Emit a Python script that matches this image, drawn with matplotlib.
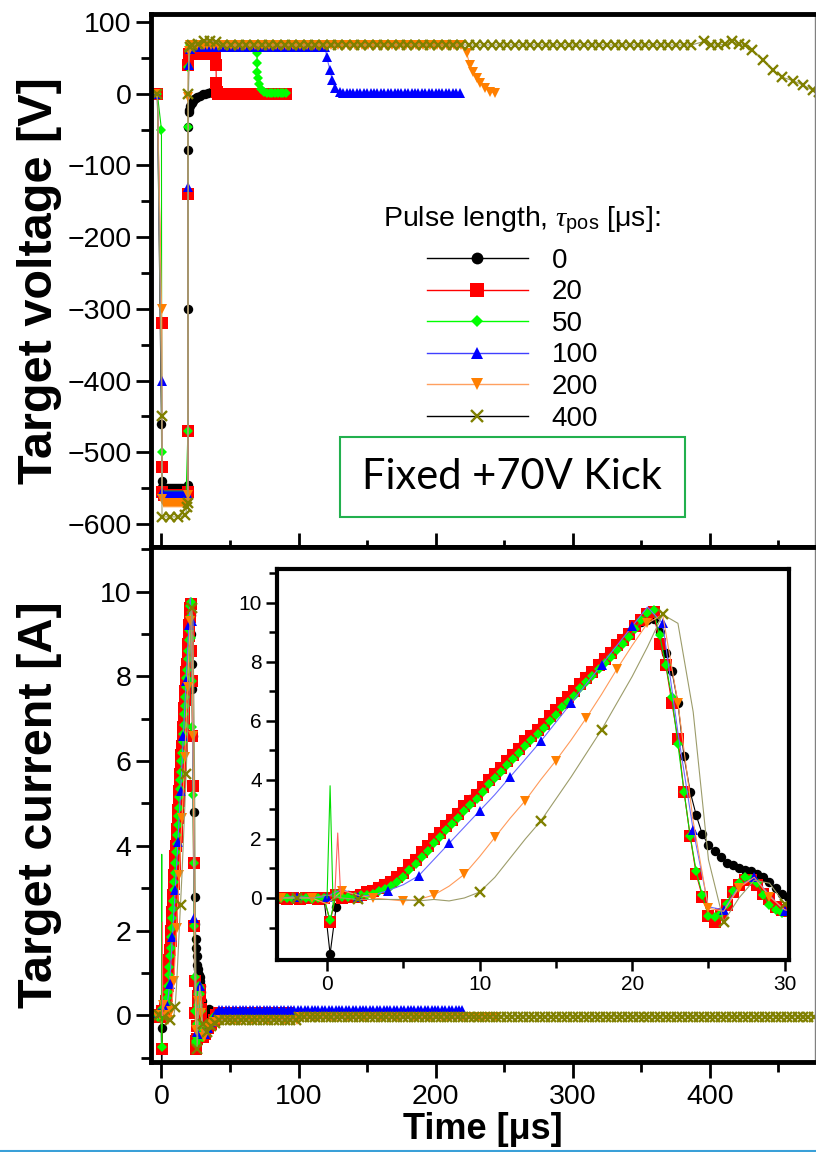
import numpy as np
import matplotlib.pyplot as plt
from matplotlib.lines import Line2D
from matplotlib.patches import Rectangle

plt.rcParams['font.family'] = ['Liberation Sans', 'DejaVu Sans']
plt.rcParams['mathtext.fontset'] = 'custom'
plt.rcParams['mathtext.rm'] = 'Liberation Sans'
plt.rcParams['mathtext.it'] = 'Liberation Serif:italic'

pulse_labels = ['0', '20', '50', '100', '200', '400']

# ---- target voltage [V] vs time [us]; flat parts given as (t0, t1, step, level)
volt_0_fall = ([-3.0, 0.0, 0.15, 0.3, 0.5, 0.8], [0, -460, -520, -540, -548, -552])
volt_0_rise = ([19.3, 19.4, 19.5, 19.6, 19.8, 20.2, 21, 22, 23, 24, 25, 26, 28, 30, 32, 34, 36, 38],
               [-545, -300, -78, -47, -26, -22, -17, -13, -10, -8, -6, -5, -3, -1, 0, 1, 2, 2])

volt_20_fall = ([-3.0, 0.1, 0.3, 0.6], [0, -320, -520, -555])
volt_20_rise = ([19.3, 19.4, 19.5, 19.6, 20.0], [-555, -470, -140, 40, 55])
volt_20_off = ([39.8, 40.0, 40.3], [40, 15, 2])

volt_50_fall = ([-3.0, 0.0, 0.2, 0.5], [0, -50, -500, -560])
volt_50_rise = ([19.3, 19.5, 19.7, 20.2], [-470, -47, 37, 60])
volt_50_off = ([69.7, 69.8, 70.0, 70.3, 70.8, 72.5, 74.5, 77], [57, 43, 31, 22, 13, 6, 2, 1])

volt_100_fall = ([-3.0, 0.1, 0.4], [0, -400, -555])
volt_100_rise = ([19.3, 19.5, 19.8, 20.5], [-560, -130, 40, 63])
volt_100_off = ([120.5, 123, 124.5, 126.5, 130], [51, 33, 19, 8, 3])

volt_200_fall = ([-3.0, 0.1, 0.4], [0, -300, -565])
volt_200_rise = ([19.3, 19.5, 20.0], [-560, -4, 60])
volt_200_off = ([222.6, 225, 227, 230, 232.5, 236, 240, 243], [57, 40, 31, 22, 15, 8, 3, 1])

volt_400_fall = ([-3.0, 0.2, 0.4, 6.0, 12.0, 17.5, 18.6], [0, -450, -590, -590, -590, -588, -576])
volt_400_rise = ([19.3, 19.6, 20.5, 22.0, 26.5, 31.0, 35.5, 40.0], [-570, 0, 65, 68, 70, 74, 74, 72])
volt_400_bump = ([396, 401, 406, 411, 416, 421, 426], [73, 68, 68, 69, 73, 69, 68])
volt_400_off = ([431, 439, 446, 453, 461, 468, 475, 480], [61, 47, 33, 23, 18, 12, 5, 2])

# ---- target current [A]; fast-sampled traces on t_fast, slower ones on t_slow
t_fast = np.arange(-3.0, 30.7, 0.4)
t_slow = np.arange(-3.0, 31.5, 1.0)

cur_0 = [0.0, 0.0, 0.0, -0.05, 0.0, 0.0, 0.0, 0.0, -1.9, -0.3,
         0.05, 0.1, 0.1, 0.15, 0.25, 0.3, 0.4, 0.5, 0.6, 0.75,
         0.9, 1.15, 1.35, 1.6, 1.8, 2.05, 2.25, 2.5, 2.7, 2.9,
         3.15, 3.35, 3.55, 3.8, 4.05, 4.25, 4.45, 4.7, 4.9, 5.1,
         5.35, 5.55, 5.75, 5.95, 6.2, 6.4, 6.65, 6.85, 7.05, 7.3,
         7.5, 7.7, 7.95, 8.15, 8.35, 8.6, 8.8, 9.0, 9.2, 9.35,
         9.4, 9.45, 9.0, 8.3, 7.7, 6.6, 4.8, 3.6, 2.8, 2.15,
         1.8, 1.6, 1.4, 1.2, 1.1, 1.0, 0.95, 0.9, 0.8, 0.7,
         0.55, 0.35, 0.15, 0.05, 0.0]
cur_20 = [0.0, -0.05, 0.0, -0.05, 0.0, 0.0, -0.05, 0.0, -0.8, 0.1,
          0.0, 0.05, 0.05, 0.1, 0.2, 0.25, 0.35, 0.45, 0.55, 0.7,
          0.85, 1.1, 1.3, 1.55, 1.75, 2.0, 2.2, 2.45, 2.65, 2.85,
          3.1, 3.3, 3.5, 3.75, 4.0, 4.2, 4.4, 4.65, 4.85, 5.05,
          5.3, 5.5, 5.7, 5.9, 6.15, 6.35, 6.6, 6.8, 7.0, 7.25,
          7.45, 7.65, 7.9, 8.1, 8.3, 8.55, 8.75, 8.95, 9.2, 9.4,
          9.6, 9.7, 8.6, 7.9, 6.6, 5.4, 3.6, 2.1, 0.8, 0.05,
          -0.6, -0.8, -0.55, -0.25, 0.2, 0.45, 0.6, 0.6, 0.45, 0.15,
          -0.05, -0.3, -0.4, -0.45, -0.5]
cur_50 = [0.0, 0.0, -0.05, 0.0, 0.0, -0.05, 0.0, 0.0, -0.75, 0.15,
          0.05, 0.05, 0.05, 0.1, 0.1, 0.15, 0.25, 0.3, 0.4, 0.55,
          0.7, 0.95, 1.15, 1.4, 1.6, 1.85, 2.05, 2.3, 2.5, 2.7,
          2.95, 3.15, 3.35, 3.6, 3.85, 4.05, 4.25, 4.5, 4.7, 4.9,
          5.15, 5.35, 5.55, 5.75, 6.0, 6.2, 6.45, 6.65, 6.85, 7.1,
          7.3, 7.5, 7.75, 7.95, 8.15, 8.4, 8.6, 8.85, 9.1, 9.4,
          9.65, 9.75, 8.9, 7.9, 6.8, 5.2, 3.6, 2.1, 0.9, 0.1,
          -0.6, -0.65, -0.5, -0.2, 0.25, 0.5, 0.7, 0.65, 0.5, 0.1,
          -0.25, -0.4, -0.5, -0.5, -0.5]
cur_100 = [0.0, 0.05, 0.0, 0.05, 0.3, 0.05, 0.1, 0.25, 0.45, 0.75,
           1.3, 1.85, 2.4, 2.95, 3.5, 4.1, 4.7, 5.3, 5.95, 6.6,
           7.25, 7.9, 8.55, 9.2, 9.85, 9.3, 5.6, 2.3, -0.3, -0.4,
           0.4, 0.7, 0.1, -0.45, -0.5]
cur_200 = [0.0, 0.0, 0.0, -0.2, 0.25, 0.1, 0.0, -0.05, -0.1, -0.05,
           0.1, 0.4, 0.8, 1.4, 2.05, 2.7, 3.3, 4.0, 4.65, 5.35,
           6.1, 6.9, 7.75, 8.55, 9.3, 9.6, 6.6, 2.6, -0.35, -0.45,
           0.35, 0.7, 0.05, -0.4, -0.5]
cur_400 = [0.0, 0.0, 0.0, 0.1, 0.0, -0.05, -0.05, -0.05, -0.05, -0.1,
           -0.05, -0.1, 0.0, 0.2, 0.7, 1.35, 2.0, 2.6, 3.35, 4.1,
           4.9, 5.7, 6.6, 7.5, 8.5, 9.6, 9.3, 6.3, 1.3, -0.8,
           0.0, 0.6, 0.5, -0.2, -0.4]

# discharge ignition spikes (line only)
spike_50 = ([0.0, 0.2, 0.4], [0.0, 3.8, -0.3])
spike_20 = ([0.5, 0.7, 0.9], [0.0, 2.2, 0.0])

# after the pulse: short decays, then flat levels up to the end of each record
tail_0 = ([31.5, 33, 35, 37, 38.5], [0.0, 0.1, 0.15, 0.1, 0.05])
tail_20 = ([32, 34, 36, 38, 40], [-0.45, -0.3, -0.2, -0.1, 0.0])
tail_50 = ([32, 34, 36, 38, 40], [-0.45, -0.3, -0.15, -0.05, 0.0])
tail_100 = ([32, 34, 36, 38, 40], [-0.45, -0.3, -0.15, -0.05, 0.05])
tail_200 = ([32, 34, 36, 38, 40], [-0.45, -0.3, -0.2, -0.15, -0.15])
tail_400 = ([33, 36, 39], [-0.4, -0.25, -0.18])

marker_styles = ['o', 's', 'D', '^', 'v', 'x']
marker_sizes = [6.8, 8.2, 5.2, 7.2, 7.2, 6.5]
marker_colors = ['#000000', '#ff0000', '#00ff00', '#0000ff', '#ff7f00', '#808000']
line_colors = ['#000000', '#ff0000', '#00dd00', '#6a6aff', '#ff9a5a', '#9c9c6a']
legend_line_colors = ['#000000', '#ff0000', '#00ff00', '#4040ff', '#ffa060', '#000000']


def trace(*parts):
    t, v = [], []
    for p in parts:
        if len(p) == 2:
            t.extend(p[0])
            v.extend(p[1])
        else:
            t0, t1, step, level = p
            ts = np.arange(t0, t1, step)
            t.extend(ts)
            v.extend([level] * len(ts))
    return np.array(t, dtype=float), np.array(v, dtype=float)


volt = [
    trace(volt_0_fall, (1.5, 19.0, 1.5, -550), volt_0_rise),
    trace(volt_20_fall, (1.5, 19.0, 1.5, -560), volt_20_rise, (21, 40, 2, 56),
          volt_20_off, (41, 92, 2, 0)),
    trace(volt_50_fall, (1.5, 19.0, 1.5, -560), volt_50_rise, (21, 70, 2, 68),
          volt_50_off, (79, 92, 2, 1)),
    trace(volt_100_fall, (1.5, 19.0, 1.5, -560), volt_100_rise, (22, 120, 2.5, 65),
          volt_100_off, (132.5, 220, 2.5, 1)),
    trace(volt_200_fall, (1.5, 19.0, 1.5, -570), volt_200_rise, (21, 221, 2.5, 68),
          volt_200_off),
    trace(volt_400_fall, volt_400_rise, (45, 392, 5.6, 68), volt_400_bump, volt_400_off),
]

# (window samples, tail, marker start, marker step inside the window)
cur = [
    (t_fast, cur_0, trace(tail_0), 0, 1),
    (t_fast, cur_20, trace(tail_20, (42, 92.5, 2, 0.05)), 0, 1),
    (t_fast, cur_50, trace(tail_50, (42, 92.5, 2, 0.05)), 0, 1),
    (t_slow, cur_100, trace(tail_100, (42, 221, 2.5, 0.12)), 1, 2),
    (t_slow, cur_200, trace(tail_200, (42, 100, 3, -0.1), (100, 246, 3, -0.05)), 0, 2),
    (t_slow, cur_400, trace(tail_400, (42, 100, 4, -0.12), (100, 478, 4, -0.03)), 1, 4),
]

fig = plt.figure(figsize=(8.16, 11.52), dpi=100)
ax1 = fig.add_axes([0.1850, 0.52517, 0.8137, 0.46267])
ax2 = fig.add_axes([0.1850, 0.078125, 0.8137, 0.44705])
axi = fig.add_axes([0.33946, 0.16667, 0.62745, 0.33941])


def mstyle(i):
    kw = dict(marker=marker_styles[i], ms=marker_sizes[i], mfc=marker_colors[i],
              mec=marker_colors[i], mew=0)
    if marker_styles[i] == 'x':
        kw['mew'] = 1.7
    return kw


for i in range(6):
    t, v = volt[i]
    ax1.plot(t, v, color=line_colors[i], lw=0.8, **mstyle(i))

for ax in (ax2, axi):
    for i in range(6):
        tw, iw, (tt, it), start, step = cur[i]
        t = np.concatenate([tw, tt])
        c = np.concatenate([iw, it])
        every = list(range(start, len(tw), step)) + list(range(len(tw), len(t)))
        ax.plot(t, c, color=line_colors[i], lw=0.8, markevery=every, **mstyle(i))
    ax.plot(*spike_50, color='#00dd00', lw=0.8)
    ax.plot(*spike_20, color='#ff6060', lw=0.8)

# axes ranges and ticks
ax1.set_xlim(-7.66, 476.7)
ax1.set_ylim(-632, 111.2)
ax2.set_xlim(-7.66, 476.7)
ax2.set_ylim(-1.10, 11.05)
axi.set_xlim(-3.28, 30.28)
axi.set_ylim(-2.10, 11.14)

ax1.set_xticks(np.arange(0, 451, 100))
ax1.set_xticks(np.arange(50, 451, 100), minor=True)
ax1.set_yticks(np.arange(-600, 101, 100))
ax1.set_yticks(np.arange(-550, 101, 100), minor=True)
ax2.set_xticks(np.arange(0, 451, 100))
ax2.set_xticks(np.arange(50, 451, 100), minor=True)
ax2.set_yticks(np.arange(0, 11, 2))
ax2.set_yticks(np.arange(-1, 12, 2), minor=True)
axi.set_xticks([0, 10, 20, 30])
axi.set_xticks([5, 15, 25], minor=True)
axi.set_yticks(np.arange(0, 11, 2))
axi.set_yticks(np.arange(-1, 12, 2), minor=True)

ax1.tick_params(axis='x', which='major', direction='in', length=10, width=2, labelbottom=False)
ax1.tick_params(axis='x', which='minor', direction='in', length=5, width=2)
for ax in (ax1, ax2):
    ax.tick_params(axis='y', which='major', direction='out', length=11, width=2,
                   labelsize=20.5, pad=3)
    ax.tick_params(axis='y', which='minor', direction='out', length=7, width=2)
ax2.tick_params(axis='x', which='major', direction='out', length=11.5, width=2,
                labelsize=20.5, pad=4)
ax2.tick_params(axis='x', which='minor', direction='out', length=7, width=2)
axi.tick_params(which='major', direction='out', length=8, width=1.8, labelsize=15, pad=3)
axi.tick_params(which='minor', direction='out', length=5.5, width=1.8)

for ax in (ax1, ax2):
    for side in ('left', 'top', 'bottom'):
        ax.spines[side].set_linewidth(3.5)
    ax.spines['right'].set_linewidth(1.0)
    ax.spines['right'].set_color('#808080')
for side in axi.spines:
    axi.spines[side].set_linewidth(3.0)

ax1.set_ylabel('Target voltage [V]', fontsize=35, fontweight='bold')
ax2.set_ylabel('Target current [A]', fontsize=35, fontweight='bold')
ax2.set_xlabel('Time [μs]', fontsize=26, fontweight='bold')
ax1.yaxis.set_label_coords(-0.134, 0.5)
ax2.yaxis.set_label_coords(-0.134, 0.5)
ax2.xaxis.set_label_coords(0.5, -0.097)

# legend: title placed as its own text, entries below it
leg_sizes = [8.5, 10.5, 6, 8, 8, 8]
handles = []
for i in range(6):
    kw = mstyle(i)
    kw['ms'] = leg_sizes[i]
    handles.append(Line2D([], [], color=legend_line_colors[i], lw=1.0, **kw))
ax1.text(0.349, 0.6135, r'Pulse length, $\tau_{\rm pos}$ [μs]:', transform=ax1.transAxes,
         ha='left', va='center', fontsize=20.5)
ax1.legend(handles, pulse_labels, loc='upper left', bbox_to_anchor=(0.4157, 0.5615),
           frameon=False, fontsize=20, handlelength=3.63, handletextpad=0.86,
           labelspacing=0.2, borderpad=0, borderaxespad=0)

ax1.add_patch(Rectangle((0.285, 0.0563), 0.519, 0.1501, transform=ax1.transAxes,
                        fill=False, edgecolor='#22b04e', lw=1.5))
ax1.text(0.5437, 0.131, 'Fixed +70V Kick', transform=ax1.transAxes, ha='center',
         va='center', fontsize=30, family='Lato')

fig.add_artist(Line2D([0, 1], [0.0013, 0.0013], transform=fig.transFigure,
                      color='#3aa0d8', lw=1.5))

fig.savefig('out.png', dpi=100)
